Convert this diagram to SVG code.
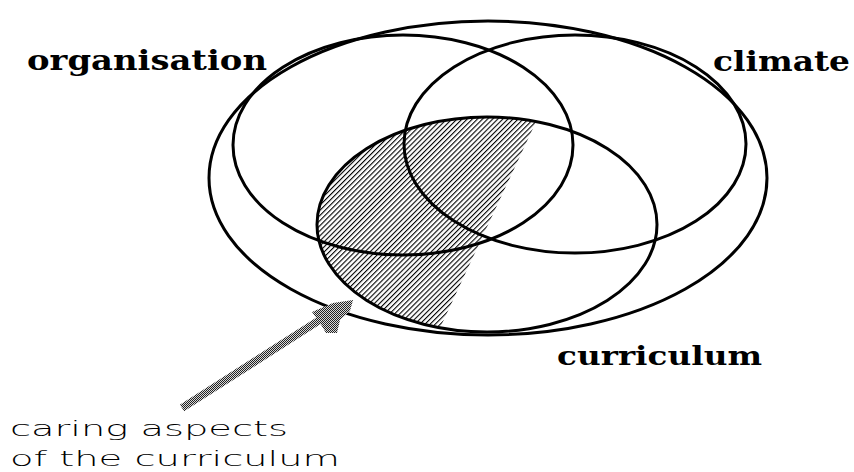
<svg xmlns="http://www.w3.org/2000/svg" width="854" height="472" viewBox="0 0 854 472">
<style>
.ring{fill:none;stroke:#000;stroke-width:3}
.bold{font-family:"DejaVu Serif","Liberation Serif",serif;font-weight:bold;fill:#000}
.thin{font-family:"DejaVu Sans","Liberation Sans",sans-serif;font-weight:200;fill:#000}
</style>
<defs>
<pattern id="hatch" width="3.6" height="10" patternUnits="userSpaceOnUse" patternTransform="rotate(45)">
<rect x="0" y="0" width="1.1" height="10" fill="#000"/>
</pattern>
<pattern id="dither" width="2" height="2" patternUnits="userSpaceOnUse">
<rect width="2" height="2" fill="#d8d8d8"/>
<rect x="0" y="0" width="1" height="1" fill="#222"/>
<rect x="1" y="1" width="1" height="1" fill="#222"/>
</pattern>
<clipPath id="caringClip">
<polygon points="300,105 543.8,105 433,343 300,343"/>
</clipPath>
</defs>
<rect width="854" height="472" fill="#fff"/>

<g id="caring-aspects">
<ellipse cx="487" cy="224.5" rx="170" ry="107.5" fill="url(#hatch)" clip-path="url(#caringClip)"/>
</g>

<g id="school">
<ellipse class="ring" cx="488" cy="178" rx="279" ry="157"/>
</g>

<g id="organisation">
<ellipse class="ring" cx="403" cy="145" rx="170" ry="110"/>
<text class="bold" x="27" y="70" font-size="27" textLength="240" lengthAdjust="spacingAndGlyphs">organisation</text>
</g>

<g id="climate">
<ellipse class="ring" cx="575" cy="144" rx="171" ry="109"/>
<text class="bold" x="713" y="71" font-size="27" textLength="137" lengthAdjust="spacingAndGlyphs">climate</text>
</g>

<g id="curriculum">
<ellipse class="ring" cx="487" cy="224.5" rx="170" ry="107.5"/>
<text class="bold" x="557" y="365" font-size="26" textLength="205" lengthAdjust="spacingAndGlyphs">curriculum</text>
</g>

<g id="connectors">
<line x1="182" y1="408" x2="326" y2="316" stroke="url(#dither)" stroke-width="8"/>
<polygon points="312,312 333,303 353,300 350,311 340,320 337,333 326,333 320,323" fill="url(#dither)"/>
</g>

<g id="caring-label">
<text class="thin" x="10" y="436" font-size="22" textLength="278" lengthAdjust="spacingAndGlyphs">caring aspects</text>
<text class="thin" x="10" y="466" font-size="22" textLength="330" lengthAdjust="spacingAndGlyphs">of the curriculum</text>
</g>
</svg>
